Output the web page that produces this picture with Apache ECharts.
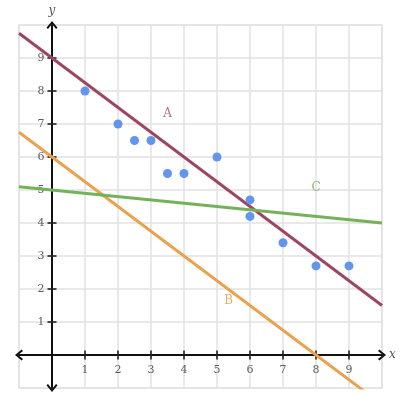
<!DOCTYPE html>
<html>
<head>
<meta charset="utf-8">
<script src="https://cdn.jsdelivr.net/npm/echarts@6/dist/echarts.min.js"></script>
<style>html,body{margin:0;padding:0;background:#fff}#c{width:400px;height:396px}</style>
</head>
<body>
<div id="c"></div>
<script>
// Data
var xTicks = [1, 2, 3, 4, 5, 6, 7, 8, 9];
var yTicks = [1, 2, 3, 4, 5, 6, 7, 8, 9];
var points = [[1, 8], [2, 7], [2.5, 6.5], [3, 6.5], [3.5, 5.5], [4, 5.5], [5, 6], [6, 4.7], [6, 4.2], [7, 3.4], [8, 2.7], [9, 2.7]];
var lineA = [[-1, 9.75], [10, 1.5]];
var lineB = [[-1, 6.75], [10, -1.5]];
var lineC = [[-1, 5.1], [10, 4.0]];
var lineLabels = [
  { name: 'A', pos: [3.5, 7.3], color: '#a4466a' },
  { name: 'B', pos: [5.35, 1.65], color: '#e59a45' },
  { name: 'C', pos: [8.0, 5.05], color: '#6aa84f' }
];

var chart = echarts.init(document.getElementById('c'));
var serif = '"DejaVu Serif", "Liberation Serif", serif';
var chevron = 'path://M5,0 L10,6 L8.6,7.2 L5,2.8 L1.4,7.2 L0,6 Z';

var series = [
  { type: 'line', data: lineA, symbol: 'none', clip: true, lineStyle: { color: '#9c4661', width: 3 }, z: 3 },
  { type: 'line', data: lineB, symbol: 'none', clip: true, lineStyle: { color: '#eaa24f', width: 3 }, z: 3 },
  { type: 'line', data: lineC, symbol: 'none', clip: true, lineStyle: { color: '#74b25a', width: 3 }, z: 3 },
  { type: 'scatter', data: points, symbol: 'circle', symbolSize: 9, itemStyle: { color: '#6495ed', opacity: 1 }, z: 4 },
  {
    type: 'scatter', data: xTicks.map(function (v) { return [v, 0]; }), symbol: 'rect', symbolSize: [2, 9],
    itemStyle: { color: '#222' }, z: 2, silent: true,
    label: { show: true, position: 'bottom', distance: 5, color: '#333', fontFamily: serif, fontSize: 11,
      formatter: function (p) { return String(p.value[0]); } }
  },
  {
    type: 'scatter', data: yTicks.map(function (v) { return [0, v]; }), symbol: 'rect', symbolSize: [9, 2],
    itemStyle: { color: '#222' }, z: 2, silent: true,
    label: { show: true, position: 'left', distance: 3, color: '#334', fontFamily: serif, fontSize: 11,
      formatter: function (p) { return String(p.value[1]); } }
  },
  {
    type: 'scatter', symbol: 'circle', symbolSize: 1, z: 5, silent: true,
    itemStyle: { color: 'rgba(0,0,0,0)' },
    data: lineLabels.map(function (l) {
      return { value: l.pos, label: { show: true, position: 'inside', formatter: l.name, color: l.color, fontFamily: serif, fontSize: 12 } };
    })
  }
];

chart.setOption({
  animation: false,
  backgroundColor: '#fff',
  grid: { left: 19, right: 18, top: 25, bottom: 8, outerBoundsMode: 'none', containLabel: false, show: true, borderColor: '#e2e2e2', borderWidth: 1.5 },
  xAxis: {
    type: 'value', min: -1, max: 10, interval: 1,
    name: 'x', nameLocation: 'end', nameGap: 7,
    nameTextStyle: { fontFamily: serif, fontStyle: 'italic', color: '#555', fontSize: 12, verticalAlign: 'middle' },
    axisLine: { show: true, onZero: true, lineStyle: { color: '#111', width: 2 }, symbol: [chevron, chevron], symbolSize: [13, 8], symbolOffset: [0, 0] },
    axisTick: { show: false },
    splitLine: { show: true, lineStyle: { color: '#e2e2e2', width: 1.5 } },
    axisLabel: { show: false }
  },
  yAxis: {
    type: 'value', min: -1, max: 10, interval: 1,
    name: 'y', nameLocation: 'end', nameGap: 8,
    nameTextStyle: { fontFamily: serif, fontStyle: 'italic', color: '#555', fontSize: 12 },
    axisLine: { show: true, onZero: true, lineStyle: { color: '#111', width: 2 }, symbol: [chevron, chevron], symbolSize: [13, 8], symbolOffset: [0, 0] },
    axisTick: { show: false },
    splitLine: { show: true, lineStyle: { color: '#e2e2e2', width: 1.5 } },
    axisLabel: { show: false }
  },
  series: series
});
</script>
</body>
</html>
